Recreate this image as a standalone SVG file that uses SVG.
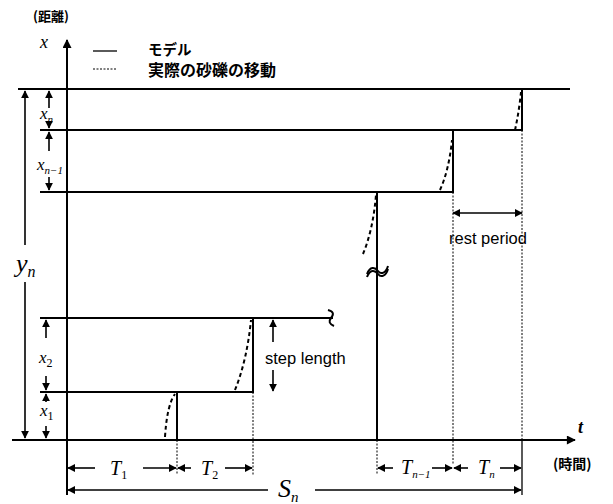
<svg xmlns="http://www.w3.org/2000/svg" width="613" height="504" viewBox="0 0 613 504">
<style>
.ln{stroke:#000;stroke-width:2;fill:none}
.th{stroke:#000;stroke-width:1.3;fill:none}
.dt{stroke:#000;stroke-width:1;fill:none;stroke-dasharray:2 1.5}
.ds{stroke:#000;stroke-width:2;fill:none;stroke-dasharray:4 3}
.ar{stroke:#000;stroke-width:1.6;fill:none}
.m{font-family:"Liberation Serif",serif;font-style:italic;fill:#000}
.s{font-family:"Liberation Serif",serif;fill:#000}
.j{font-family:"Noto Sans CJK JP",sans-serif;font-weight:bold;fill:#000}
.e{font-family:"Liberation Sans",Arial,sans-serif;fill:#000;font-size:16.5px}
</style>
<defs>
<marker id="ah" viewBox="0 0 10 10" refX="9" refY="5" markerWidth="8" markerHeight="8" markerUnits="userSpaceOnUse" orient="auto-start-reverse">
<path d="M0,0 L10,5 L0,10 z" fill="#000"/>
</marker>
<marker id="ah2" viewBox="0 0 10 10" refX="9" refY="5" markerWidth="10" markerHeight="9" markerUnits="userSpaceOnUse" orient="auto-start-reverse">
<path d="M0,0 L10,5 L0,10 z" fill="#000"/>
</marker>
</defs>

<g id="axes">
<line class="ln" x1="67" y1="495" x2="67" y2="40" marker-end="url(#ah2)"/>
<line class="ln" x1="12" y1="440" x2="575" y2="440" marker-end="url(#ah2)"/>
<text class="m" x="40" y="48" font-size="18">x</text>
<text class="m" x="578" y="433" font-size="18" font-weight="bold">t</text>
<text class="j" x="33" y="21" font-size="13">(距離)</text>
<text class="j" x="553" y="469" font-size="14">(時間)</text>
</g>

<g id="legend">
<line class="th" x1="93" y1="51" x2="117" y2="51"/>
<text class="j" x="148" y="55" font-size="14.5">モデル</text>
<line class="dt" x1="93" y1="69" x2="117" y2="69" stroke-width="1.3" stroke-dasharray="3 2"/>
<text class="j" x="148" y="76" font-size="16">実際の砂礫の移動</text>
</g>

<g id="model">
<line class="ln" x1="18" y1="89" x2="570" y2="89"/>
<polyline class="ln" points="40,130 522,130 522,89"/>
<polyline class="ln" points="40,192 453,192 453,130"/>
<line class="ln" x1="377" y1="192" x2="377" y2="440"/>
<line class="ln" x1="40" y1="318" x2="333" y2="318"/>
<polyline class="ln" points="40,392 253,392 253,318"/>
<line class="ln" x1="177" y1="440" x2="177" y2="392"/>
<path class="ln" d="M328,310 Q336,312 331,318 Q327,323 334,326" stroke-width="2.2"/>
<path class="ln" d="M367,277 C370,269 375,270 378,274 C381,278 386,276 388,269" stroke-width="1.2"/>
<path class="ln" d="M367,274 C370,266 375,267 378,271 C381,275 386,273 388,266" stroke-width="1.2"/>
</g>

<g id="actual">
<path class="ds" d="M515,130 Q519,112 521,92"/>
<path class="ds" d="M440,190 Q449,170 452,140"/>
<path class="ds" d="M363,254 Q373,230 376,195"/>
<path class="ds" d="M235,390 Q247,360 251,320"/>
<path class="ds" d="M165,437 Q167,405 175,394"/>
</g>

<g id="guides">
<line class="dt" x1="453" y1="192" x2="453" y2="465"/>
<line class="dt" x1="522" y1="130" x2="522" y2="440"/>
<line class="th" x1="522" y1="440" x2="522" y2="495"/>
<line class="dt" x1="253" y1="392" x2="253" y2="475"/>
<line class="dt" x1="177" y1="440" x2="177" y2="475"/>
<line class="dt" x1="377" y1="440" x2="377" y2="475"/>
</g>

<g id="connectors">
<line class="ar" x1="49" y1="108" x2="49" y2="91" marker-end="url(#ah)"/>
<line class="ar" x1="49" y1="121" x2="49" y2="128" marker-end="url(#ah)"/>
<line class="ar" x1="49" y1="151" x2="49" y2="132" marker-end="url(#ah)"/>
<line class="ar" x1="49" y1="177" x2="49" y2="190" marker-end="url(#ah)"/>
<line class="ar" x1="25" y1="245" x2="25" y2="91" marker-end="url(#ah)"/>
<line class="ar" x1="25" y1="282" x2="25" y2="438" marker-end="url(#ah)"/>
<line class="ar" x1="46" y1="338" x2="46" y2="320" marker-end="url(#ah)"/>
<line class="ar" x1="46" y1="376" x2="46" y2="390" marker-end="url(#ah)"/>
<line class="ar" x1="46" y1="402" x2="46" y2="394" marker-end="url(#ah)"/>
<line class="ar" x1="46" y1="426" x2="46" y2="438" marker-end="url(#ah)"/>
<line class="ar" x1="273" y1="342" x2="273" y2="320" marker-end="url(#ah)"/>
<line class="ar" x1="273" y1="370" x2="273" y2="391" marker-end="url(#ah)"/>
<line class="ar" x1="453" y1="213" x2="522" y2="213" marker-start="url(#ah)" marker-end="url(#ah)"/>
<line class="ar" x1="95" y1="468" x2="68" y2="468" marker-end="url(#ah)"/>
<line class="ar" x1="143" y1="468" x2="176" y2="468" marker-end="url(#ah)"/>
<line class="ar" x1="191" y1="468" x2="178" y2="468" marker-end="url(#ah)"/>
<line class="ar" x1="225" y1="468" x2="252" y2="468" marker-end="url(#ah)"/>
<line class="ar" x1="393" y1="468" x2="378" y2="468" marker-end="url(#ah)"/>
<line class="ar" x1="432" y1="468" x2="452" y2="468" marker-end="url(#ah)"/>
<line class="ar" x1="468" y1="468" x2="454" y2="468" marker-end="url(#ah)"/>
<line class="ar" x1="500" y1="468" x2="521" y2="468" marker-end="url(#ah)"/>
<line class="ar" x1="268" y1="490" x2="68" y2="490" marker-end="url(#ah)"/>
<line class="ar" x1="315" y1="490" x2="521" y2="490" marker-end="url(#ah)"/>
</g>

<g id="labels">
<text class="m" x="40" y="119" font-size="17">x<tspan font-size="11" dy="4">n</tspan></text>
<text class="m" x="37" y="170" font-size="17">x<tspan font-size="11" dy="4">n−1</tspan></text>
<text class="m" x="16" y="272" font-size="26">y<tspan font-size="16" dy="5">n</tspan></text>
<text class="m" x="39" y="363" font-size="17">x<tspan class="s" font-style="normal" font-size="12" dy="4">2</tspan></text>
<text class="m" x="40" y="416" font-size="17">x<tspan class="s" font-style="normal" font-size="12" dy="4">1</tspan></text>
<text class="e" x="265" y="364">step length</text>
<text class="e" x="449" y="244">rest  period</text>
<text class="m" x="110" y="475" font-size="20">T<tspan class="s" font-style="normal" font-size="12" dy="4">1</tspan></text>
<text class="m" x="201" y="475" font-size="20">T<tspan class="s" font-style="normal" font-size="12" dy="4">2</tspan></text>
<text class="m" x="401" y="474" font-size="20">T<tspan font-size="11" dy="4">n−1</tspan></text>
<text class="m" x="478" y="474" font-size="20">T<tspan font-size="11" dy="4">n</tspan></text>
<text class="m" x="278" y="497" font-size="26">S<tspan font-size="15" dy="5">n</tspan></text>
</g>
</svg>
